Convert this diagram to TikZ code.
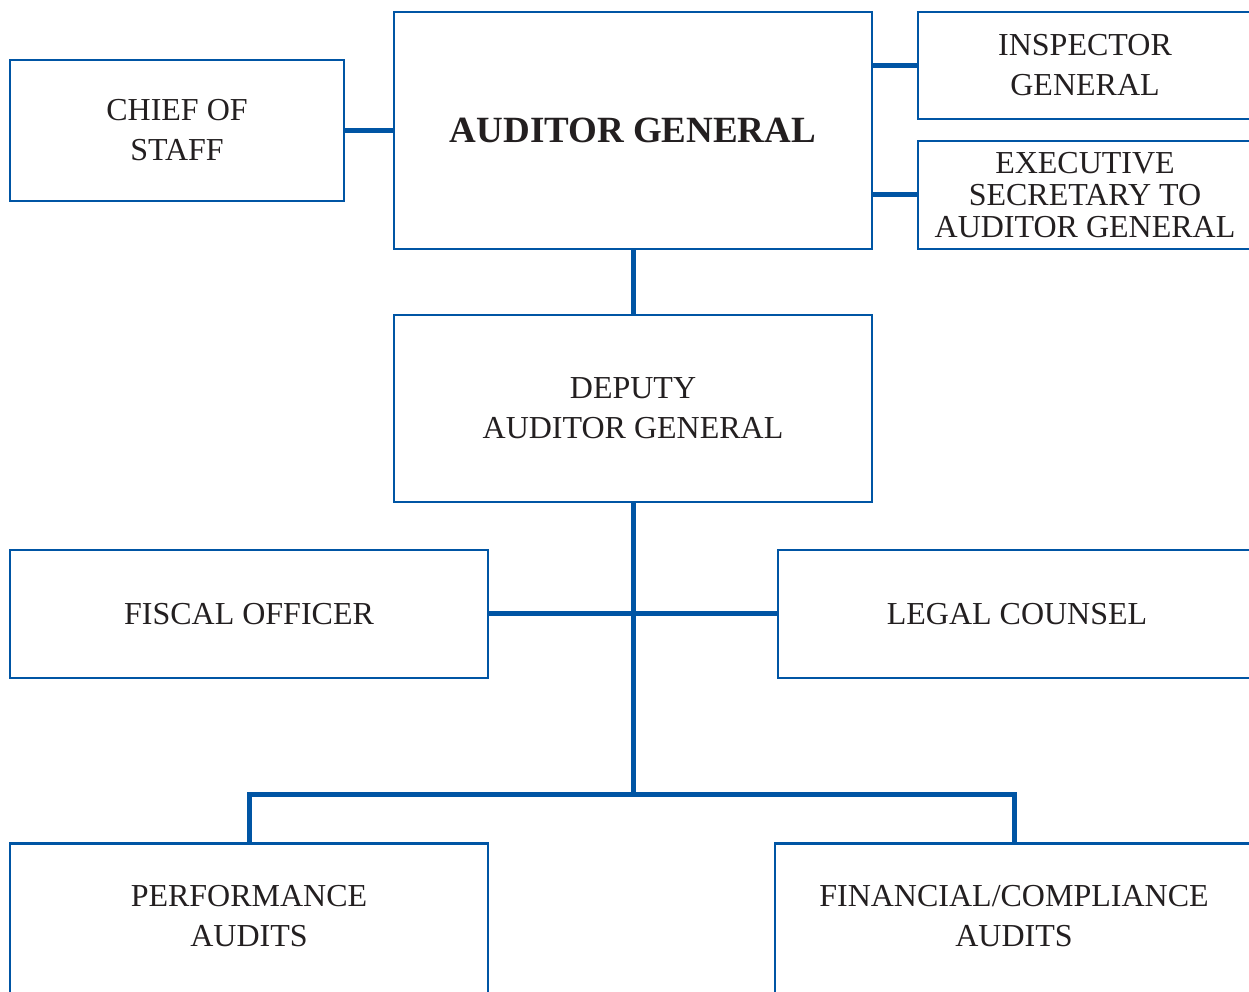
\documentclass[tikz,border=0pt]{standalone}
\usepackage{fontspec}
\setmainfont{Liberation Serif}
\usepackage{tikz}
\definecolor{orgblue}{HTML}{0055A4}
\definecolor{orgtext}{HTML}{231F20}

\begin{document}
\begin{tikzpicture}[x=1pt, y=1pt,
        unit/.style={draw=orgblue, line width=2.5pt, rectangle, inner sep=0pt,
            align=center, text=orgtext, font=\fontsize{32}{40}\selectfont},
        link/.style={draw=orgblue, line width=5pt}]
            \useasboundingbox (0,0) rectangle (1249,991);
            \clip (0,0) rectangle (1249,991);

            \node[unit, minimum width=478, minimum height=237,
                font=\fontsize{37}{44}\selectfont\bfseries] (ag) at (633,860.5) {AUDITOR GENERAL};
            \node[unit, minimum width=334, minimum height=141] (cos) at (177,860.5) {CHIEF OF\\STAFF};
            \node[unit, minimum width=334, minimum height=107] (ig) at (1085,925.5) {INSPECTOR\\GENERAL};
            \node[unit, minimum width=334, minimum height=108,
                font=\fontsize{32}{32}\selectfont] (exs) at (1085,796) {EXECUTIVE\\SECRETARY TO\\AUDITOR GENERAL};
            \node[unit, minimum width=478, minimum height=187] (dep) at (633,582.5) {DEPUTY\\AUDITOR GENERAL};
            \node[unit, minimum width=478, minimum height=128] (fisc) at (249,377) {FISCAL OFFICER};
            \node[unit, minimum width=478, minimum height=128] (legal) at (1017,377) {LEGAL COUNSEL};
            \node[unit, minimum width=478, minimum height=180, anchor=north] (perf) at (249,149) {};
            \node[unit, minimum width=478, minimum height=180, anchor=north] (fin) at (1014,149) {};
            \node[unit, draw=none] (perftxt) at ([yshift=-74]perf.north) {PERFORMANCE\\AUDITS};
            \node[unit, draw=none] (fintxt) at ([yshift=-74]fin.north) {FINANCIAL/COMPLIANCE\\AUDITS};

            \coordinate (bus) at (633,197);

            \draw[link] (cos.east) -- (cos.east -| ag.west);
            \draw[link] (ig.west) -- (ig.west -| ag.east);
            \draw[link] (exs.west) -- (exs.west -| ag.east);
            \draw[link] (ag.south) -- (dep.north);
            \draw[link] (dep.south) -- (bus);
            \draw[link] (fisc.east) -- (legal.west);
            \draw[link] (perf.north) |- (bus) -| (fin.north);
        \end{tikzpicture}
\end{document}
